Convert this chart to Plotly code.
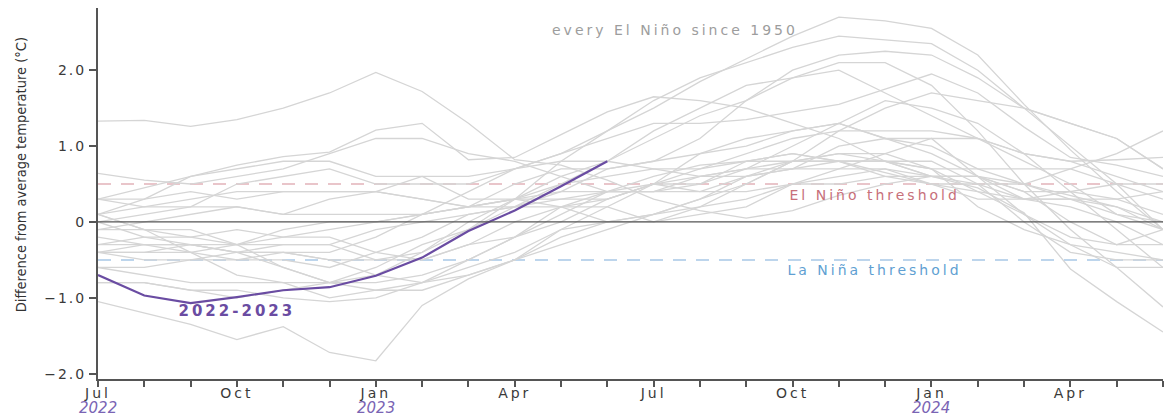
import plotly.graph_objects as go

# Month index 0 = Jul of the year before, 23 = Jun of the year after
months = list(range(24))
tick_labels = ["Jul", "", "", "Oct", "", "", "Jan", "", "", "Apr", "", "",
               "Jul", "", "", "Oct", "", "", "Jan", "", "", "Apr", "", ""]
year_labels = {0: "2022", 6: "2023", 18: "2024"}

# Oceanic Niño index traces, one per El Niño since 1950 (Jul Y-1 .. Jun Y+1)
y1951 = [-0.8, -0.8, -0.9, -0.9, -1.0, -1.05, -1.0, -0.8, -0.5, -0.2, 0.2, 0.4,
         0.6, 0.75, 0.8, 0.9, 0.8, 0.65, 0.5, 0.4, 0.3, 0.3, 0.2, 0.0]
y1953 = [-0.1, 0.0, 0.1, 0.2, 0.1, 0.3, 0.4, 0.6, 0.6, 0.7, 0.8, 0.8,
         0.7, 0.7, 0.8, 0.8, 0.8, 0.8, 0.8, 0.5, 0.0, -0.4, -0.5, -0.5]
y1957 = [-0.6, -0.6, -0.5, -0.5, -0.4, -0.4, -0.2, 0.1, 0.4, 0.7, 0.9, 1.1,
         1.3, 1.3, 1.35, 1.45, 1.55, 1.75, 1.95, 1.7, 1.25, 0.85, 0.75, 0.6]
y1958 = [1.33, 1.34, 1.26, 1.35, 1.5, 1.7, 1.97, 1.72, 1.3, 0.82, 0.75, 0.55,
         0.3, 0.15, 0.05, 0.15, 0.35, 0.5, 0.6, 0.6, 0.5, 0.35, 0.2, -0.1]
y1963 = [-0.2, -0.3, -0.4, -0.5, -0.5, -0.6, -0.4, -0.2, 0.1, 0.2, 0.3, 0.3,
         0.5, 0.9, 1.1, 1.2, 1.3, 1.1, 1.1, 0.6, 0.1, -0.3, -0.6, -0.6]
y1965 = [-0.6, -0.7, -0.8, -0.8, -0.8, -0.8, -0.6, -0.3, -0.1, 0.2, 0.5, 0.8,
         1.2, 1.5, 1.8, 1.9, 2.0, 1.7, 1.4, 1.1, 0.8, 0.5, 0.1, -0.1]
y1968 = [0.0, -0.2, -0.3, -0.4, -0.4, -0.5, -0.7, -0.8, -0.7, -0.5, -0.1, 0.2,
         0.5, 0.4, 0.4, 0.5, 0.7, 0.9, 1.1, 1.1, 0.9, 0.8, 0.6, 0.4]
y1969 = [0.64, 0.55, 0.5, 0.6, 0.7, 0.9, 1.1, 1.1, 0.9, 0.8, 0.6, 0.4,
         0.4, 0.5, 0.8, 0.9, 0.8, 0.6, 0.5, 0.3, 0.3, 0.2, 0.0, -0.3]
y1972 = [-0.8, -0.8, -0.9, -1.0, -0.9, -0.8, -0.7, -0.4, 0.0, 0.3, 0.6, 0.8,
         1.1, 1.4, 1.6, 1.9, 2.1, 2.1, 1.8, 1.2, 0.5, -0.1, -0.6, -1.12]
y1976 = [-1.05, -1.2, -1.35, -1.55, -1.38, -1.72, -1.83, -1.1, -0.75, -0.5, -0.3, -0.1,
         0.1, 0.3, 0.6, 0.7, 0.8, 0.8, 0.6, 0.6, 0.3, 0.3, 0.3, 0.4]
y1977 = [0.1, 0.3, 0.6, 0.7, 0.8, 0.8, 0.6, 0.6, 0.3, 0.3, 0.3, 0.4,
         0.4, 0.6, 0.7, 0.8, 0.8, 0.8, 0.7, 0.4, 0.1, -0.2, -0.3, -0.3]
y1979 = [-0.4, -0.4, -0.4, -0.3, -0.1, 0.0, 0.0, 0.1, 0.2, 0.3, 0.2, 0.0,
         0.0, 0.2, 0.3, 0.5, 0.5, 0.6, 0.6, 0.5, 0.3, 0.4, 0.5, 0.5]
y1982 = [-0.3, -0.2, -0.2, -0.1, -0.2, -0.1, 0.0, 0.1, 0.2, 0.5, 0.7, 0.7,
         0.8, 1.1, 1.6, 2.0, 2.2, 2.25, 2.2, 1.9, 1.5, 1.3, 1.1, 0.7]
y1986 = [-0.4, -0.5, -0.5, -0.4, -0.3, -0.3, -0.5, -0.5, -0.3, -0.2, 0.0, 0.3,
         0.5, 0.7, 0.9, 1.1, 1.2, 1.2, 1.2, 1.1, 0.9, 0.8, 0.82, 0.85]
y1987 = [0.3, 0.45, 0.6, 0.75, 0.86, 0.92, 1.21, 1.3, 0.82, 0.85, 1.15, 1.45,
         1.65, 1.6, 1.5, 1.3, 1.1, 0.8, 0.6, 0.45, 0.12, -0.62, -1.05, -1.45]
y1991 = [0.3, 0.3, 0.4, 0.3, 0.4, 0.4, 0.4, 0.3, 0.2, 0.3, 0.5, 0.6,
         0.7, 0.6, 0.6, 0.8, 1.2, 1.5, 1.7, 1.6, 1.5, 1.3, 1.1, 0.7]
y1994 = [0.3, 0.2, 0.2, 0.2, 0.1, 0.1, 0.1, 0.1, 0.2, 0.3, 0.4, 0.4,
         0.4, 0.4, 0.6, 0.7, 1.0, 1.1, 1.0, 0.7, 0.5, 0.3, 0.1, 0.0]
y1997 = [-0.3, -0.3, -0.3, -0.4, -0.4, -0.5, -0.5, -0.4, -0.1, 0.3, 0.8, 1.2,
         1.6, 1.9, 2.1, 2.3, 2.45, 2.4, 2.35, 2.0, 1.5, 1.0, 0.5, -0.1]
y2002 = [-0.1, -0.1, -0.2, -0.3, -0.3, -0.3, -0.1, 0.0, 0.1, 0.2, 0.4, 0.7,
         0.8, 0.9, 1.0, 1.2, 1.3, 1.1, 0.9, 0.6, 0.4, 0.0, -0.3, -0.1]
y2004 = [0.1, 0.2, 0.3, 0.4, 0.4, 0.4, 0.4, 0.3, 0.2, 0.2, 0.2, 0.3,
         0.5, 0.6, 0.7, 0.7, 0.7, 0.7, 0.6, 0.6, 0.4, 0.4, 0.3, 0.1]
y2006 = [0.1, -0.1, -0.1, -0.3, -0.6, -0.8, -0.9, -0.8, -0.6, -0.4, -0.1, 0.0,
         0.1, 0.3, 0.5, 0.8, 0.9, 0.9, 0.7, 0.2, -0.1, -0.3, -0.4, -0.5]
y2009 = [-0.4, -0.3, -0.3, -0.4, -0.6, -0.8, -0.8, -0.7, -0.5, -0.2, 0.1, 0.4,
         0.5, 0.5, 0.7, 1.0, 1.3, 1.6, 1.5, 1.3, 0.9, 0.4, -0.1, -0.6]
y2014 = [-0.4, -0.4, -0.3, -0.3, -0.2, -0.2, -0.4, -0.5, -0.3, 0.0, 0.2, 0.2,
         0.0, 0.1, 0.2, 0.5, 0.6, 0.7, 0.5, 0.5, 0.5, 0.7, 0.9, 1.2]
y2015 = [0.0, 0.1, 0.2, 0.5, 0.6, 0.7, 0.5, 0.5, 0.5, 0.7, 0.9, 1.2,
         1.5, 1.85, 2.15, 2.45, 2.7, 2.65, 2.55, 2.2, 1.55, 0.95, 0.4, -0.1]
y2018 = [0.1, -0.1, -0.4, -0.7, -0.8, -1.0, -0.9, -0.9, -0.7, -0.5, -0.2, 0.0,
         0.1, 0.2, 0.5, 0.8, 0.9, 0.8, 0.7, 0.7, 0.7, 0.7, 0.5, 0.3]

past_events = [y1951, y1953, y1957, y1958, y1963, y1965, y1968, y1969, y1972,
               y1976, y1977, y1979, y1982, y1986, y1987, y1991, y1994, y1997,
               y2002, y2004, y2006, y2009, y2014, y2015, y2018]

# Current event, Jul 2022 .. Jun 2023
current = [-0.70, -0.97, -1.07, -0.99, -0.90, -0.86, -0.71, -0.47, -0.12, 0.15, 0.47, 0.80]

EL_NINO_THRESHOLD = 0.5
LA_NINA_THRESHOLD = -0.5

y_ticks = [-2, -1, 0, 1, 2]
y_tick_text = ["\u22122.0", "\u22121.0", "0", "1.0", "2.0"]

AXIS = "#555555"
GRAY = "#d5d5d5"
PURPLE = "#6a4ca2"
FONT = "DejaVu Sans, Verdana, sans-serif"
NARROW = "Liberation Sans Narrow, DejaVu Sans Condensed, Arial Narrow, sans-serif"

fig = go.Figure()

for vals in past_events:
    fig.add_trace(go.Scatter(x=months, y=vals, mode="lines",
                             line=dict(color=GRAY, width=1.3),
                             hoverinfo="skip", showlegend=False))

fig.add_trace(go.Scatter(x=months[:len(current)], y=current, mode="lines",
                         line=dict(color=PURPLE, width=2.2),
                         hoverinfo="skip", showlegend=False))

# threshold and zero reference lines
fig.add_shape(type="line", xref="x", yref="y", x0=0, x1=23,
              y0=EL_NINO_THRESHOLD, y1=EL_NINO_THRESHOLD, layer="below",
              line=dict(color="#e2b3b9", width=1.5, dash="13px,10px"))
fig.add_shape(type="line", xref="x", yref="y", x0=0, x1=23,
              y0=LA_NINA_THRESHOLD, y1=LA_NINA_THRESHOLD, layer="below",
              line=dict(color="#a8c7e6", width=1.5, dash="13px,10px"))
fig.add_shape(type="line", xref="x", yref="y", x0=0, x1=23, y0=0, y1=0,
              layer="above", line=dict(color="#555555", width=1.2))

# text labels
fig.add_annotation(x=-0.072, y=0.55, xref="paper", yref="paper", textangle=-90,
                   text="Difference from average temperature (\u00b0C)",
                   showarrow=False, xanchor="center", yanchor="middle",
                   font=dict(family=NARROW, size=14.5, color="#333333"))
fig.add_annotation(x=12.46, y=2.53, xref="x", yref="y", text="every El Ni\u00f1o since 1950",
                   showarrow=False, font=dict(family=FONT, size=14, color="#9d9d9d"))
fig.add_annotation(x=16.78, y=0.355, xref="x", yref="y", text="El Ni\u00f1o threshold",
                   showarrow=False, font=dict(family=FONT, size=14, color="#c7707a"))
fig.add_annotation(x=16.78, y=-0.63, xref="x", yref="y", text="La Ni\u00f1a threshold",
                   showarrow=False, font=dict(family=FONT, size=14, color="#5f9fd2"))
fig.add_annotation(x=3.0, y=-1.17, xref="x", yref="y", text="<b>2022-2023</b>",
                   showarrow=False, font=dict(family=FONT, size=15, color=PURPLE))
for m, yr in year_labels.items():
    fig.add_annotation(x=m, y=-0.078, xref="x", yref="paper", text="<i>" + yr + "</i>",
                       showarrow=False, yanchor="middle",
                       font=dict(family=FONT, size=15, color="#7a64b4"))

fig.update_layout(
    width=1165, height=416,
    margin=dict(l=98, r=2, t=8, b=37),
    paper_bgcolor="white", plot_bgcolor="white",
    xaxis=dict(range=[0, 23], tickvals=months, ticktext=tick_labels,
               ticks="outside", ticklen=6, tickwidth=2, tickcolor=AXIS,
               ticklabelstandoff=-6,
               showline=True, linecolor=AXIS, linewidth=2,
               showgrid=False, zeroline=False, fixedrange=True,
               tickfont=dict(family=FONT, size=14, color="#3a3a3a")),
    yaxis=dict(range=[-2.07, 2.82], tickvals=y_ticks, ticktext=y_tick_text,
               ticks="outside", ticklen=7, tickwidth=2, tickcolor=AXIS,
               showline=True, linecolor=AXIS, linewidth=2,
               showgrid=False, zeroline=False, fixedrange=True,
               tickfont=dict(family=FONT, size=14, color="#3a3a3a")),
)

# widen letter spacing of the month labels and the in-plot labels
spacing_js = """
document.querySelectorAll('.xtick text, .annotation-text').forEach(function (t) {
  var s = t.textContent;
  if (s.indexOf('Difference') === 0 || /^20\\d\\d$/.test(s)) { return; }
  t.style.letterSpacing = '3px';
});
document.querySelectorAll('.ytick text').forEach(function (t) {
  t.style.letterSpacing = '2px';
});
"""

fig.write_html("out.html", post_script=spacing_js, config={"displayModeBar": False})
